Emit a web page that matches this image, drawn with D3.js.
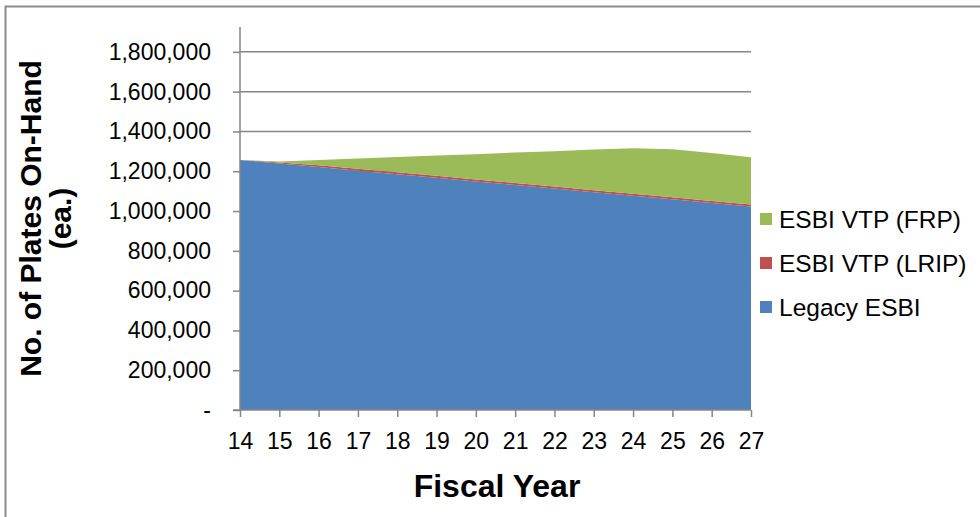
<!DOCTYPE html>
<html>
<head>
<meta charset="utf-8">
<script src="https://cdn.jsdelivr.net/npm/d3@7"></script>
<style>
  body { margin: 0; background: #fff; }
  svg { font-family: "Liberation Sans", Arial, sans-serif; }
</style>
</head>
<body>
<svg id="chart" width="980" height="517"></svg>
<script>
// fiscal years on the x axis
const years = ["14", "15", "16", "17", "18", "19", "20", "21", "22", "23", "24", "25", "26", "27"];

// plates on hand
const legacyEsbi = [1257000, 1239000, 1221000, 1203000, 1185000, 1167000, 1149000, 1131000, 1113000, 1095000, 1077000, 1059000, 1041000, 1023000];
const vtpLrip    = [0, 5000, 9000, 10000, 10000, 10000, 10000, 10000, 10000, 10000, 10000, 10000, 10000, 10000];
const vtpFrp     = [0, 5000, 26000, 51000, 76000, 102000, 127000, 153000, 178000, 204000, 229000, 242000, 241000, 237000];

const yTicks = [0, 200000, 400000, 600000, 800000, 1000000, 1200000, 1400000, 1600000, 1800000];

const seriesNames = ["Legacy ESBI", "ESBI VTP (LRIP)", "ESBI VTP (FRP)"];
const colors = { "Legacy ESBI": "#4F81BD", "ESBI VTP (LRIP)": "#C0504D", "ESBI VTP (FRP)": "#9BBB59" };

const rows = years.map((y, i) => ({
    year: y,
    "Legacy ESBI": legacyEsbi[i],
    "ESBI VTP (LRIP)": vtpLrip[i],
    "ESBI VTP (FRP)": vtpFrp[i]
}));

const svg = d3.select("#chart");

// outer frame (cut off at right and bottom like the original)
svg.append("path")
    .attr("d", "M5.5,520 V6.5 H985")
    .attr("fill", "none")
    .attr("stroke", "#8c8c8c")
    .attr("stroke-width", 2);

const plot = { left: 240, right: 751, top: 27, bottom: 410 };

const x = d3.scalePoint()
    .domain(years)
    .range([plot.left, plot.right]);

const y = d3.scaleLinear()
    .domain([0, 1925000])
    .range([plot.bottom, plot.top]);

// gridlines
svg.append("g")
    .selectAll("line")
    .data(yTicks.filter(d => d > 0))
    .join("line")
    .attr("x1", plot.left)
    .attr("x2", plot.right)
    .attr("y1", d => y(d))
    .attr("y2", d => y(d))
    .attr("stroke", "#868686")
    .attr("stroke-width", 1.5);

// stacked areas
const stack = d3.stack().keys(seriesNames);
const layers = stack(rows);

const area = d3.area()
    .x(d => x(d.data.year))
    .y0(d => y(d[0]))
    .y1(d => y(d[1]));

svg.append("g")
    .selectAll("path")
    .data(layers)
    .join("path")
    .attr("fill", d => colors[d.key])
    .attr("d", area);

// y axis
const yAxis = d3.axisLeft(y)
    .tickValues(yTicks)
    .tickSize(7)
    .tickPadding(22)
    .tickFormat(d => d === 0 ? "-" : d3.format(",")(d));

const gy = svg.append("g")
    .attr("transform", `translate(${plot.left},0)`)
    .call(yAxis);
gy.select(".domain").attr("stroke", "#868686").attr("stroke-width", 1.5)
    .attr("d", `M-0,${plot.top}V${plot.bottom}`);
gy.selectAll(".tick line").attr("stroke", "#868686").attr("stroke-width", 1.5);
gy.selectAll(".tick text")
    .attr("fill", "#000")
    .style("font-size", "23px");

// x axis
const xAxis = d3.axisBottom(x)
    .tickSize(7)
    .tickPadding(16);

const gx = svg.append("g")
    .attr("transform", `translate(0,${plot.bottom})`)
    .call(xAxis);
gx.select(".domain").attr("stroke", "#868686").attr("stroke-width", 1.5)
    .attr("d", `M${plot.left - 7},0H${plot.right}`);
gx.selectAll(".tick line").attr("stroke", "#868686").attr("stroke-width", 1.5);
gx.selectAll(".tick text")
    .attr("fill", "#000")
    .style("font-size", "23px");

// axis titles
svg.append("text")
    .attr("x", 497)
    .attr("y", 497)
    .attr("text-anchor", "middle")
    .style("font-size", "32px")
    .style("font-weight", "bold")
    .text("Fiscal Year");

const yTitle = svg.append("text")
    .attr("transform", `translate(0,${(plot.top + plot.bottom) / 2}) rotate(-90)`)
    .attr("text-anchor", "middle")
    .style("font-size", "30px")
    .style("font-weight", "bold");
yTitle.append("tspan").attr("x", 0).attr("y", 41).text("No. of Plates On-Hand");
yTitle.append("tspan").attr("x", 0).attr("y", 71).text("(ea.)");

// legend
const legendItems = seriesNames.slice().reverse();
const legend = svg.append("g")
    .selectAll("g")
    .data(legendItems)
    .join("g")
    .attr("transform", (d, i) => `translate(760,${219 + i * 44})`);

legend.append("rect")
    .attr("x", 0)
    .attr("y", -6)
    .attr("width", 12)
    .attr("height", 12)
    .attr("fill", d => colors[d]);

legend.append("text")
    .attr("x", 19)
    .attr("y", 0)
    .attr("dy", "0.35em")
    .style("font-size", "24.5px")
    .text(d => d);
</script>
</body>
</html>
